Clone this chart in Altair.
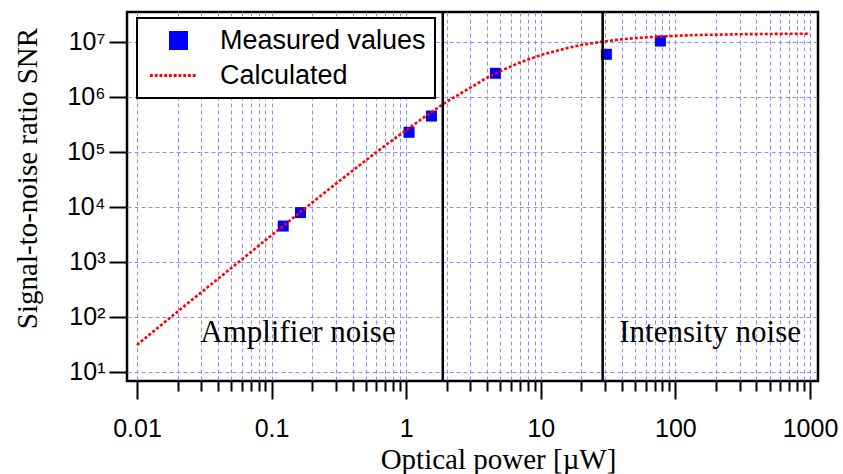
import altair as alt
import pandas as pd

# Measured values (optical power in µW, SNR)
meas_power = [0.122, 0.164, 1.05, 1.54, 4.6, 30.7, 77.3]
meas_snr = [4.5e3, 7.9e3, 2.28e5, 4.5e5, 2.7e6, 5.97e6, 1.04e7]

# Calculated curve
calc_power = [0.01, 0.02, 0.05, 0.1, 0.2, 0.3, 0.5, 0.7, 1, 1.5, 2, 3, 4, 5, 7,
              10, 15, 20, 30, 40, 50, 70, 100, 150, 200, 300, 500, 700, 1000]
calc_snr = [31, 125, 770, 3.06e3, 1.2e4, 2.64e4, 7.0e4, 1.32e5, 2.5e5, 5.1e5,
            8.2e5, 1.48e6, 2.25e6, 2.95e6, 4.25e6, 5.8e6, 7.55e6, 8.85e6,
            1.03e7, 1.12e7, 1.175e7, 1.24e7, 1.295e7, 1.34e7, 1.36e7, 1.385e7,
            1.4e7, 1.41e7, 1.415e7]

# Region boundaries and labels
boundary_power = [1.87, 28.8]
region_labels = ["Amplifier noise", "Intensity noise"]
region_power = [0.157, 181]
region_snr = [51, 51]

series_names = ["Measured values", "Calculated"]

x_tick_values = [m * 10.0 ** e for e in range(-2, 3) for m in range(1, 10)] + [1000.0]
y_tick_values = [1e1, 1e2, 1e3, 1e4, 1e5, 1e6, 1e7]

meas_df = pd.DataFrame({"power": meas_power, "snr": meas_snr, "series": series_names[0]})
calc_df = pd.DataFrame({"power": calc_power, "snr": calc_snr, "series": series_names[1]})
bound_df = pd.DataFrame({"power": boundary_power})
text_df = pd.DataFrame({"power": region_power, "snr": region_snr, "label": region_labels})

major_test = "abs(log(datum.value)/LN10 - round(log(datum.value)/LN10)) < 0.001"

x_scale = alt.Scale(type="log", domain=[0.00843, 1146], nice=False)
y_scale = alt.Scale(type="log", domain=[6.85, 3.51e7], nice=False)

x_axis = alt.Axis(
    values=x_tick_values,
    format="~g",
    labelExpr=f"{major_test} ? datum.label : ''",
    tickSize={"condition": {"test": major_test, "value": 18}, "value": 10},
    labelPadding=17,
    labelOverlap=False,
    labelFlush=False,
    title="Optical power [µW]",
    titleX=371,
    titleY=78,
    titleAlign="center",
    titleBaseline="middle",
)
y_axis = alt.Axis(
    values=y_tick_values,
    labelExpr="'10' + ['⁰','¹','²','³','⁴','⁵','⁶','⁷','⁸'][round(log(datum.value)/LN10)]",
    tickSize=18,
    labelPadding=4,
    labelOverlap=False,
    labelFlush=False,
    title="Signal-to-noise ratio SNR",
    titleX=-100,
    titleY=166,
    titleAngle=270,
    titleAlign="center",
    titleBaseline="middle",
)

x_enc = alt.X("power:Q", scale=x_scale, axis=x_axis)
y_enc = alt.Y("snr:Q", scale=y_scale, axis=y_axis)

# dotted-line legend symbol built from small squares
dots = []
for i in range(10):
    x0 = -3.0 + i * 0.5
    dots.append(f"M{x0:.3f},-0.15h0.3v0.3h-0.3z")
dotted_path = "".join(dots)

color_enc = alt.Color(
    "series:N",
    scale=alt.Scale(domain=series_names, range=["#0000ff", "#ff0000"]),
    legend=alt.Legend(
        title=None,
        orient="none",
        legendX=10,
        legendY=6,
        padding=9,
        symbolOffset=19,
        symbolSize=361,
        symbolOpacity=1,
        symbolStrokeWidth=0,
        labelOffset=28,
        labelFont="Liberation Sans",
        labelFontSize=27,
        labelColor="black",
        labelLimit=0,
        rowPadding=7,
        strokeColor="black",
        fillColor="white",
    ),
)
shape_enc = alt.Shape(
    "series:N",
    scale=alt.Scale(domain=series_names, range=["square", dotted_path]),
)

points = alt.Chart(meas_df).mark_point(filled=True, opacity=1, size=121).encode(
    x=x_enc, y=y_enc, color=color_enc, shape=shape_enc
)
line = alt.Chart(calc_df).mark_line(strokeDash=[3, 2], strokeWidth=2.6, clip=True).encode(
    x=x_enc, y=y_enc, color=color_enc
)
rules = alt.Chart(bound_df).mark_rule(color="black", strokeWidth=2.5).encode(x=x_enc)
texts = alt.Chart(text_df).mark_text(
    font="Liberation Serif", fontSize=31, align="center", baseline="middle", color="black"
).encode(x=x_enc, y=y_enc, text="label:N")

chart = (
    alt.layer(points, line, rules, texts)
    .properties(
        width=691,
        height=369,
        autosize=alt.AutoSizeParams(type="none"),
        padding={"left": 127, "top": 12, "right": 25, "bottom": 93},
    )
    .configure_view(stroke="black", strokeWidth=2.5)
    .configure_axis(
        gridColor="#8c8cff",
        gridDash=[4, 3],
        gridWidth=1,
        domain=False,
        tickColor="black",
        tickWidth=2,
        labelFont="Liberation Sans",
        labelFontSize=25,
        labelColor="black",
        titleFont="Liberation Serif",
        titleFontSize=29,
        titleFontWeight="normal",
        titleColor="black",
    )
    .configure_legend(strokeWidth=2)
)

chart.save("out.html", embed_options={"renderer": "svg", "actions": False})
